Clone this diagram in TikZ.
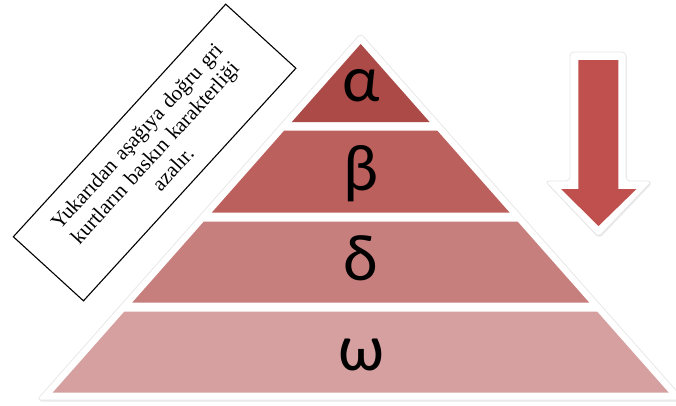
\documentclass[tikz,border=0pt]{standalone}
\usepackage{fontspec}
\setmainfont{Liberation Serif}
\newfontfamily\greekfont{Carlito}
\usetikzlibrary{shadows}
\definecolor{cAlpha}{HTML}{AB4A47}
\definecolor{cBeta}{HTML}{BC605D}
\definecolor{cDelta}{HTML}{C77F7E}
\definecolor{cOmega}{HTML}{D6A0A0}
\definecolor{cArrow}{HTML}{C0504D}

\begin{document}
\begin{tikzpicture}[
    x=1pt, y=-1pt,
    % --- Shape styles ---
    frame/.style={
        fill=white, draw=black!9, line width=0.8pt, rounded corners=4pt,
        drop shadow={shadow xshift=0.8pt, shadow yshift=-1.6pt,
                     opacity=0.35, fill=black!25}
    },
    layer/.style={draw=none},
    % --- Text styles ---
    greek/.style={anchor=base, inner sep=0pt,
        font=\greekfont\fontsize{66}{70}\selectfont},
    note/.style={
        draw, line width=1.1pt, fill=white, rotate=47.6,
        minimum width=315pt, minimum height=95pt, inner sep=0pt,
        text width=305pt, align=center,
        font=\fontsize{21}{24.5}\selectfont
    },
]
\useasboundingbox (0,0) rectangle (676,405);

% =============================================
% WHITE FRAMES (pyramid and arrow)
% =============================================

\filldraw[frame] (360.7,33.4) -- (684.6,400) -- (36.8,400) -- cycle;
\filldraw[frame] (570,52) -- (626,52) -- (626,181) -- (652,181)
    -- (598.5,237) -- (545,181) -- (570,181) -- cycle;

% =============================================
% PYRAMID LAYERS
% =============================================

\fill[layer, cAlpha] (360.7,44) -- (429.6,122) -- (291.8,122) -- cycle;
\fill[layer, cBeta]  (284.1,130.7) -- (437.3,130.7) -- (509.7,212.7) -- (211.7,212.7) -- cycle;
\fill[layer, cDelta] (203.7,221.7) -- (517.7,221.7) -- (589.3,302.7) -- (132.1,302.7) -- cycle;
\fill[layer, cOmega] (124.2,311.7) -- (597.2,311.7) -- (668.8,392.7) -- (52.6,392.7) -- cycle;

\node[greek] (alpha) at (361,101) {α};
\node[greek] (beta)  at (361,190) {β};
\node[greek] (delta) at (361,280) {δ};
\node[greek] (omega) at (361,370) {ω};

% =============================================
% DOWN ARROW
% =============================================

\fill[cArrow] (578.3,60) -- (618.3,60) -- (618.3,189) -- (636.5,189)
    -- (598.5,226) -- (561,189) -- (578.3,189) -- cycle;

% =============================================
% NOTE BOX
% =============================================

\node[note] (remark) at (154.6,152.5) {
    Yukarıdan aşağıya doğru gri\\
    kurtların baskın karakterliği\\
    azalır.
};

\end{tikzpicture}
\end{document}
